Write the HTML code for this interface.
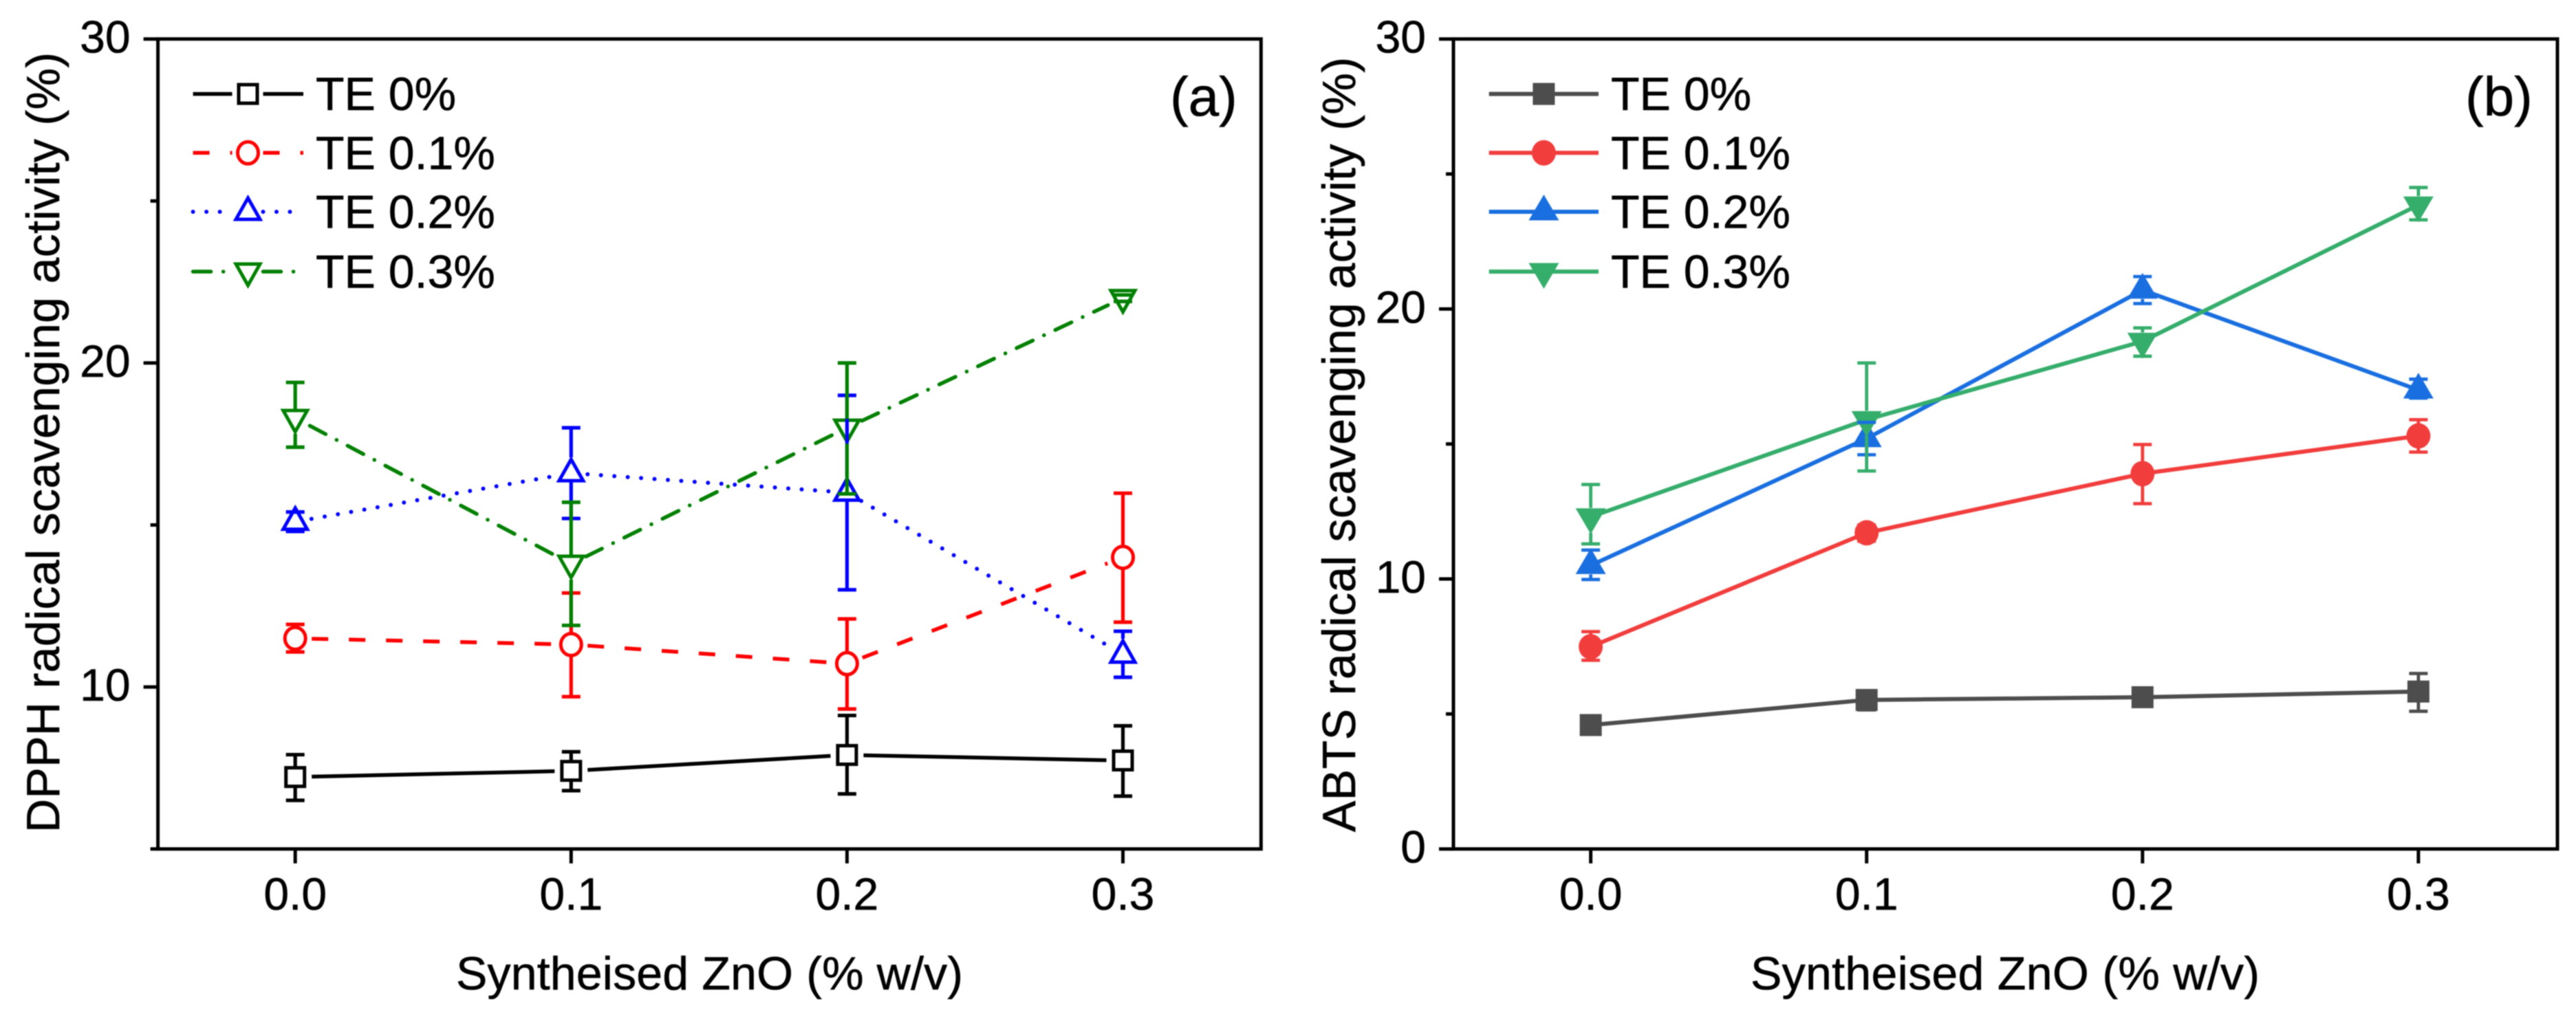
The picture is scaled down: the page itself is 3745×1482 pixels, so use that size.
<!DOCTYPE html>
<html lang="en">
<head>
<meta charset="utf-8">
<title>DPPH and ABTS radical scavenging activity</title>
<style>
html,body{margin:0;padding:0;background:#fff;width:3745px;height:1482px;overflow:hidden}
svg{display:block;filter:blur(0.7px)}
text{font-family:"Liberation Sans",Arial,sans-serif;fill:#000;stroke:#000;stroke-width:0.6px}
</style>
</head>
<body>
<svg id="figure" xmlns="http://www.w3.org/2000/svg" width="3745" height="1482" viewBox="0 0 3745 1482">
  <rect x="0" y="0" width="3745" height="1482" fill="#fff"/>
  <g id="panel-a">
    <text transform="translate(86,1211) rotate(-90)" font-size="68" textLength="1135" lengthAdjust="spacing">DPPH radical scavenging activity (%)</text>
    <text x="663" y="1439" font-size="68" textLength="737" lengthAdjust="spacing">Syntheised ZnO (% w/v)</text>
    <text x="1701" y="168" font-size="80">(a)</text>
  </g>
  <g id="panel-b">
    <text transform="translate(1970,1210) rotate(-90)" font-size="68" textLength="1127" lengthAdjust="spacing">ABTS radical scavenging activity (%)</text>
    <text x="2545" y="1439" font-size="68" textLength="740" lengthAdjust="spacing">Syntheised ZnO (% w/v)</text>
    <text x="3584" y="168" font-size="80">(b)</text>
  </g>
</svg>
<script>
// ---- categories and tick labels ----
const categories = [0.0, 0.1, 0.2, 0.3];
const xTickLabels = ['0.0', '0.1', '0.2', '0.3'];
const yMajorA = [10, 20, 30];
const yMinorA = [5, 15, 25];
const yMajorB = [0, 10, 20, 30];
const yMinorB = [5, 15, 25];
const seriesNames = ['TE 0%', 'TE 0.1%', 'TE 0.2%', 'TE 0.3%'];

// ---- panel (a): DPPH ----
const dpph0 = [7.22, 7.41, 7.90, 7.73];
const dpph0Hi = [7.91, 8.00, 9.12, 8.80];
const dpph0Lo = [6.50, 6.80, 6.70, 6.63];
const dpph1 = [11.50, 11.31, 10.72, 14.00];
const dpph1Hi = [11.93, 12.90, 12.10, 15.98];
const dpph1Lo = [11.08, 9.70, 9.32, 12.00];
const dpph2 = [15.10, 16.60, 16.00, 11.00];
const dpph2Hi = [15.40, 18.00, 19.00, 11.72];
const dpph2Lo = [14.80, 15.20, 13.00, 10.30];
const dpph3 = [18.30, 13.80, 18.00, 22.00];
const dpph3Hi = [19.40, 15.70, 20.00, 22.10];
const dpph3Lo = [17.40, 11.90, 15.96, 21.90];

// ---- panel (b): ABTS ----
const abts0 = [4.59, 5.52, 5.62, 5.83];
const abts0Hi = [4.90, 5.85, 5.85, 6.50];
const abts0Lo = [4.25, 5.15, 5.35, 5.10];
const abts1 = [7.49, 11.71, 13.90, 15.30];
const abts1Hi = [8.05, 12.00, 14.98, 15.90];
const abts1Lo = [6.99, 11.40, 12.79, 14.70];
const abts2 = [10.50, 15.20, 20.70, 17.00];
const abts2Hi = [11.07, 15.80, 21.20, 17.40];
const abts2Lo = [9.98, 14.60, 20.20, 16.70];
const abts3 = [12.30, 15.90, 18.80, 23.85];
const abts3Hi = [13.50, 18.00, 19.30, 24.50];
const abts3Lo = [11.30, 14.00, 18.25, 23.30];

const NS = 'http://www.w3.org/2000/svg';
function mk(tag, attrs, parent) {
  const e = document.createElementNS(NS, tag);
  for (const k in attrs) e.setAttribute(k, attrs[k]);
  parent.appendChild(e);
  return e;
}
const kinds = ['square', 'circle', 'up', 'down'];

function markerPath(kind, cx, cy, filled) {
  if (kind === 'square') {
    const h = filled ? 16 : 13.5;
    return `M${cx-h} ${cy-h}H${cx+h}V${cy+h}H${cx-h}Z`;
  }
  if (kind === 'circle') {
    const rx = filled ? 17.5 : 15;
    const ry = filled ? 18.5 : 16;
    return `M${cx-rx} ${cy}A${rx} ${ry} 0 1 1 ${cx+rx} ${cy}A${rx} ${ry} 0 1 1 ${cx-rx} ${cy}Z`;
  }
  const hw = filled ? 22 : 17.5;
  const tip = filled ? 25 : 20;
  const base = filled ? 12.5 : 11;
  if (kind === 'up') return `M${cx} ${cy-tip}L${cx+hw} ${cy+base}H${cx-hw}Z`;
  return `M${cx} ${cy+tip}L${cx+hw} ${cy-base}H${cx-hw}Z`;
}
function markerExtent(kind) {
  if (kind === 'square') return [15, 15];
  if (kind === 'circle') return [18, 18];
  if (kind === 'up') return [23, 13];
  return [13, 23];
}

function drawPanel(cfg) {
  const g = cfg.group;
  const xAt = v => cfg.x0 + v * cfg.xk;
  const yAt = v => cfg.yBottom - (v - cfg.yMin) / (cfg.yMax - cfg.yMin) * (cfg.yBottom - cfg.yTop);

  // frame
  const frame = mk('rect', {x: cfg.left, y: cfg.yTop, width: cfg.right - cfg.left, height: cfg.yBottom - cfg.yTop, fill: 'none', stroke: '#000', 'stroke-width': 5}, g);
  
  

  // x ticks and labels
  categories.forEach((c, i) => {
    const t = mk('line', {x1: xAt(c), x2: xAt(c), y1: cfg.yBottom, y2: cfg.yBottom + 21, stroke: '#000', 'stroke-width': 5}, g);
    
    
    const l = mk('text', {x: xAt(c), y: 1323, 'text-anchor': 'middle', 'font-size': 66}, g);
    l.textContent = xTickLabels[i];
    
    
  });
  // y ticks and labels
  cfg.yMajor.forEach(v => {
    const t = mk('line', {x1: cfg.left - 21, x2: cfg.left, y1: yAt(v), y2: yAt(v), stroke: '#000', 'stroke-width': 5}, g);
    
    
    const l = mk('text', {x: cfg.left - 40, y: yAt(v) + 20, 'text-anchor': 'end', 'font-size': 66}, g);
    l.textContent = String(v);
    
    
  });
  cfg.yMinor.forEach(v => {
    const t = mk('line', {x1: cfg.left - 11, x2: cfg.left, y1: yAt(v), y2: yAt(v), stroke: '#000', 'stroke-width': 5}, g);
    
    
  });

  // series lines and markers
  cfg.series.forEach((s, si) => {
    const sg = mk('g', {}, g);
    
    
    const pts = categories.map((c, i) => [xAt(c), yAt(s.values[i])]);
    for (let i = 0; i < pts.length - 1; i++) {
      const [ax, ay] = pts[i], [bx, by] = pts[i + 1];
      const len = Math.hypot(bx - ax, by - ay);
      const ux = (bx - ax) / len, uy = (by - ay) / len;
      const gp = cfg.gap;
      const attrs = {x1: ax + ux * gp, y1: ay + uy * gp, x2: bx - ux * gp, y2: by - uy * gp, stroke: s.color, 'stroke-width': s.lw, fill: 'none'};
      if (s.dash) { attrs['stroke-dasharray'] = s.dash; }
      if (s.cap) { attrs['stroke-linecap'] = s.cap; }
      const seg = mk('line', attrs, sg);
      
      
    }
    pts.forEach(([x, y]) => {
      const attrs = {d: markerPath(kinds[si], x, y, cfg.filled)};
      if (cfg.filled) { attrs.fill = s.color; }
      else { attrs.fill = 'none'; attrs.stroke = s.color; attrs['stroke-width'] = 5; attrs['stroke-linejoin'] = 'miter'; }
      const m = mk('path', attrs, sg);
      
      
    });
  });

  // error bars
  cfg.series.forEach((s, si) => {
    const eg = mk('g', {stroke: s.color, 'stroke-width': cfg.ebw, fill: 'none'}, g);
    
    
    const [up, dn] = markerExtent(kinds[si]);
    categories.forEach((c, i) => {
      const x = xAt(c), cy = yAt(s.values[i]), yh = yAt(s.hi[i]), yl = yAt(s.lo[i]);
      const stem1 = cy - up, stem2 = cy + dn;
      if (yh < stem1) {
        const a = mk('line', {x1: x, x2: x, y1: yh, y2: stem1}, eg);
        
        
      }
      if (yl > stem2) {
        const b = mk('line', {x1: x, x2: x, y1: stem2, y2: yl}, eg);
        
        
      }
      const c1 = mk('line', {x1: x - 13.5, x2: x + 13.5, y1: yh, y2: yh}, eg);
      
      
      const c2 = mk('line', {x1: x - 13.5, x2: x + 13.5, y1: yl, y2: yl}, eg);
      
      
    });
  });

  // legend
  const rows = [136.6, 222.3, 308, 395];
  cfg.series.forEach((s, si) => {
    const lg = mk('g', {}, g);
    
    
    const y = rows[si];
    const ranges = cfg.filled
      ? [[cfg.legX0, cfg.legX1]]
      : [[cfg.legX0, cfg.legC - 23], [cfg.legC + 22, cfg.legX1]];
    ranges.forEach(r => {
      const attrs = {x1: r[0], x2: r[1], y1: y, y2: y, stroke: s.color, 'stroke-width': s.lw};
      if (s.dash) { attrs['stroke-dasharray'] = s.dash; }
      if (s.cap) { attrs['stroke-linecap'] = s.cap; }
      const ln = mk('line', attrs, lg);
      
      
    });
    const attrs = {d: markerPath(kinds[si], cfg.legC, y, cfg.filled)};
    if (cfg.filled) { attrs.fill = s.color; }
    else { attrs.fill = 'none'; attrs.stroke = s.color; attrs['stroke-width'] = 5; }
    const m = mk('path', attrs, lg);
    
    
    const t = mk('text', {x: cfg.legText, y: y + 23.5, 'font-size': 68}, lg);
    t.textContent = seriesNames[si];
    
    
  });
}

drawPanel({
  id: 'a',
  group: document.getElementById('panel-a'),
  left: 229.6, right: 1833.3, yTop: 56.7, yBottom: 1234.7,
  x0: 429.2, xk: 4011,
  yMin: 5, yMax: 30,
  yMajor: yMajorA, yMinor: yMinorA,
  filled: false, gap: 24, ebw: 5.2,
  legX0: 280.6, legX1: 441, legC: 360.5, legText: 459,
  series: [
    {values: dpph0, hi: dpph0Hi, lo: dpph0Lo, color: '#000000', lw: 5.5},
    {values: dpph1, hi: dpph1Hi, lo: dpph1Lo, color: '#ff0000', lw: 5.5, dash: '24 30'},
    {values: dpph2, hi: dpph2Hi, lo: dpph2Lo, color: '#0000ff', lw: 6, dash: '0 19.5', cap: 'round'},
    {values: dpph3, hi: dpph3Hi, lo: dpph3Lo, color: '#008000', lw: 5.5, dash: '26 18 0.1 18', cap: 'round'}
  ]
});

drawPanel({
  id: 'b',
  group: document.getElementById('panel-b'),
  left: 2113, right: 3718, yTop: 56.7, yBottom: 1234.7,
  x0: 2312.6, xk: 4011,
  yMin: 0, yMax: 30,
  yMajor: yMajorB, yMinor: yMinorB,
  filled: true, gap: 0, ebw: 4.8,
  legX0: 2164.7, legX1: 2324, legC: 2244.4, legText: 2342,
  series: [
    {values: abts0, hi: abts0Hi, lo: abts0Lo, color: '#4d4d4d', lw: 6},
    {values: abts1, hi: abts1Hi, lo: abts1Lo, color: '#f23d3d', lw: 6},
    {values: abts2, hi: abts2Hi, lo: abts2Lo, color: '#1a6fe0', lw: 6},
    {values: abts3, hi: abts3Hi, lo: abts3Lo, color: '#35ad6b', lw: 6}
  ]
});
</script>
</body>
</html>
